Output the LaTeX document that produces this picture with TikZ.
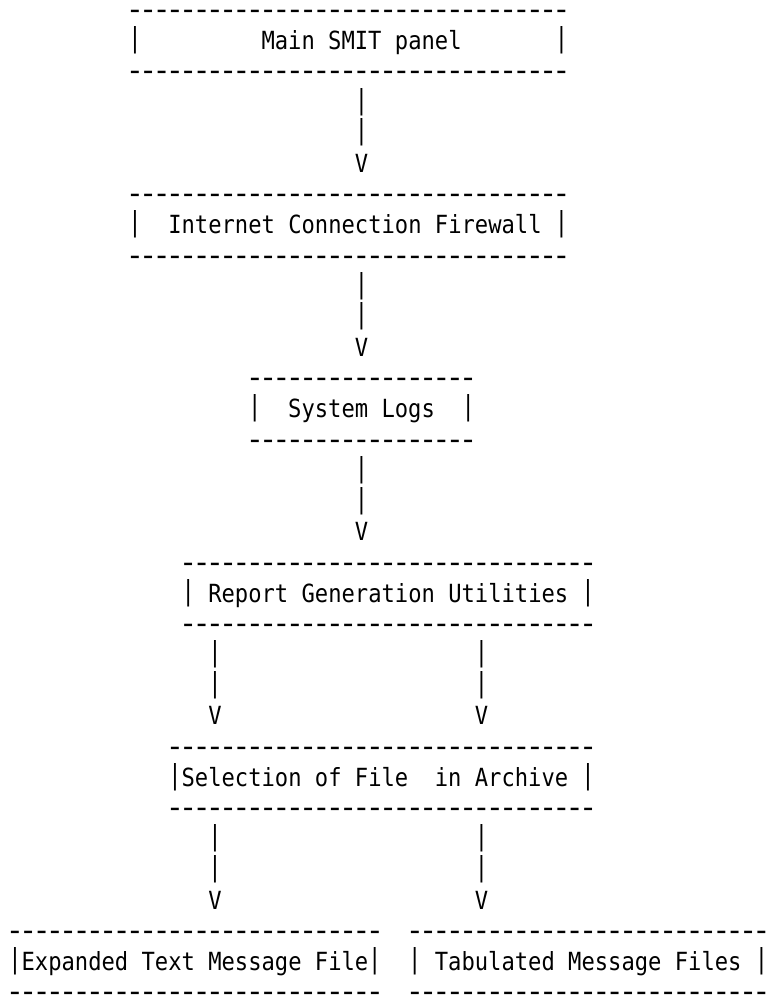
\documentclass[tikz,border=0pt]{standalone}
\usepackage{fontspec}
\newfontfamily\mono[FakeStretch=0.886]{DejaVu Sans Mono}
\newcommand\dsh{\makebox[13.33pt]{\raisebox{-0.6pt}{\scalebox{1.4}[1.18]{-}}}}
\newcommand\dashes[1]{\foreach\i in {1,...,#1}{\dsh}}
\newcommand\vb{\raisebox{2pt}{\scalebox{1}[1.1]{|}}}
\tikzset{
  txt/.style={anchor=base west, inner sep=0pt, outer sep=0pt, font=\mono\fontsize{25}{30}\selectfont},
  cell/.style 2 args={at={({8.3+#1*13.33},{19+#2*30.69})}},
}
\begin{document}
\begin{tikzpicture}[x=1pt,y=-1pt]
\useasboundingbox (0,0) rectangle (768,1004);
% Box 1: Main SMIT panel
\node[txt,cell={9}{0}] (mainT) {\dashes{33}};
\node[txt,cell={9}{1}] (mainL) {\vb};
\node[txt,cell={19}{1}] (main) {Main SMIT panel};
\node[txt,cell={41}{1}] (mainR) {\vb};
\node[txt,cell={9}{2}] (mainB) {\dashes{33}};
% arrow 1
\node[txt,cell={26}{3}] (a1a) {\vb};
\node[txt,cell={26}{4}] (a1b) {\vb};
\node[txt,cell={26}{5}] (a1c) {V};
% Box 2: Internet Connection Firewall
\node[txt,cell={9}{6}] (icfT) {\dashes{33}};
\node[txt,cell={9}{7}] (icfL) {\vb};
\node[txt,cell={12}{7}] (icf) {Internet Connection Firewall};
\node[txt,cell={41}{7}] (icfR) {\vb};
\node[txt,cell={9}{8}] (icfB) {\dashes{33}};
% arrow 2
\node[txt,cell={26}{9}] (a2a) {\vb};
\node[txt,cell={26}{10}] (a2b) {\vb};
\node[txt,cell={26}{11}] (a2c) {V};
% Box 3: System Logs
\node[txt,cell={18}{12}] (logsT) {\dashes{17}};
\node[txt,cell={18}{13}] (logsL) {\vb};
\node[txt,cell={21}{13}] (logs) {System Logs};
\node[txt,cell={34}{13}] (logsR) {\vb};
\node[txt,cell={18}{14}] (logsB) {\dashes{17}};
% arrow 3
\node[txt,cell={26}{15}] (a3a) {\vb};
\node[txt,cell={26}{16}] (a3b) {\vb};
\node[txt,cell={26}{17}] (a3c) {V};
% Box 4: Report Generation Utilities
\node[txt,cell={13}{18}] (repT) {\dashes{31}};
\node[txt,cell={13}{19}] (repL) {\vb};
\node[txt,cell={15}{19}] (report) {Report Generation Utilities};
\node[txt,cell={43}{19}] (repR) {\vb};
\node[txt,cell={13}{20}] (repB) {\dashes{31}};
% arrows 4
\node[txt,cell={15}{21}] (a4a) {\vb};
\node[txt,cell={15}{22}] (a4b) {\vb};
\node[txt,cell={15}{23}] (a4c) {V};
\node[txt,cell={35}{21}] (a5a) {\vb};
\node[txt,cell={35}{22}] (a5b) {\vb};
\node[txt,cell={35}{23}] (a5c) {V};
% Box 5: Selection of File in Archive
\node[txt,cell={12}{24}] (selT) {\dashes{32}};
\node[txt,cell={12}{25}] (selL) {\vb};
\node[txt,cell={13}{25}] (select) {Selection of File};
\node[txt,cell={32}{25}] (select2) {in Archive};
\node[txt,cell={43}{25}] (selR) {\vb};
\node[txt,cell={12}{26}] (selB) {\dashes{32}};
% arrows 5
\node[txt,cell={15}{27}] (a6a) {\vb};
\node[txt,cell={15}{28}] (a6b) {\vb};
\node[txt,cell={15}{29}] (a6c) {V};
\node[txt,cell={35}{27}] (a7a) {\vb};
\node[txt,cell={35}{28}] (a7b) {\vb};
\node[txt,cell={35}{29}] (a7c) {V};
% Box 6: Expanded Text Message File
\node[txt,cell={0}{30}] (expT) {\dashes{28}};
\node[txt,cell={0}{31}] (expL) {\vb};
\node[txt,cell={1}{31}] (expanded) {Expanded Text Message File};
\node[txt,cell={27}{31}] (expR) {\vb};
\node[txt,cell={0}{32}] (expB) {\dashes{28}};
% Box 7: Tabulated Message Files
\node[txt,cell={30}{30}] (tabT) {\dashes{27}};
\node[txt,cell={30}{31}] (tabL) {\vb};
\node[txt,cell={32}{31}] (tabulated) {Tabulated Message Files};
\node[txt,cell={56}{31}] (tabR) {\vb};
\node[txt,cell={30}{32}] (tabB) {\dashes{27}};
\end{tikzpicture}
\end{document}
